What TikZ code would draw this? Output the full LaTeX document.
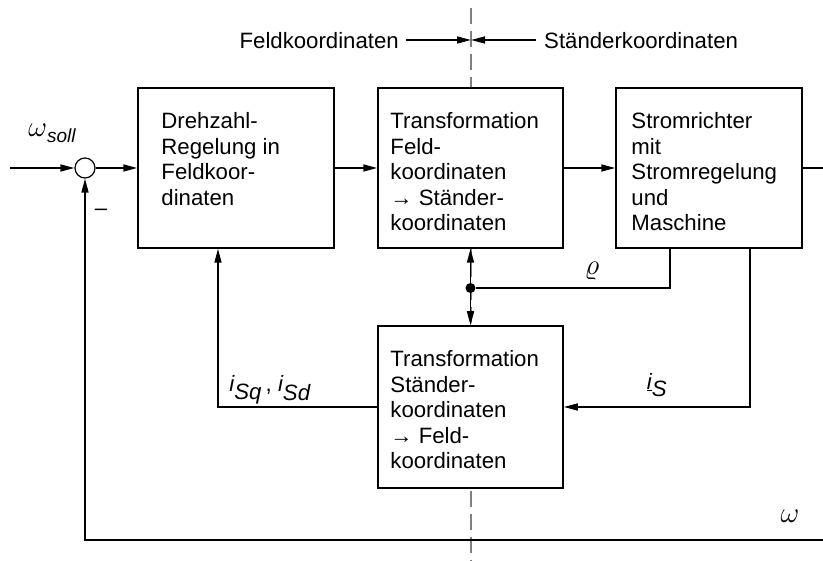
\RequirePackage{fix-cm}
\documentclass[tikz,border=0pt]{standalone}
\usepackage{fontspec}
\setmainfont{Liberation Sans}
\usetikzlibrary{arrows.meta}
\begin{document}
\begin{tikzpicture}[x=1pt,y=-1pt,
  blk/.style={draw,line width=1.5pt,fill=white,inner sep=0pt},
  txt/.style={anchor=north west,align=left,inner sep=0pt,font=\fontsize{22.2}{25.5}\selectfont},
  lbl/.style={inner sep=0pt,font=\fontsize{22.2}{25.5}\selectfont},
  greek/.style={inner sep=0pt,font=\fontsize{29}{30}\selectfont},
  sig/.style={line width=1.5pt},
  arr/.style={sig,-{Triangle[length=14pt,width=7pt]}},
  sep/.style={draw=gray,line width=1.2pt,dash pattern=on 16pt off 7pt}]
\useasboundingbox (0,0) rectangle (823,561);

% separation line between field and stator coordinates
\coordinate (septop) at (471,8);
\coordinate (sepbot) at (471,561);
\draw[sep] (septop) -- (sepbot);

% header labels
\node[lbl,anchor=east] (feld) at (399,41) {Feldkoordinaten};
\node[lbl,anchor=west] (staend) at (544,41) {Ständerkoordinaten};
\coordinate (fa) at (406,40);
\coordinate (sa) at (536,40);
\coordinate (mid) at (471,40);
\draw[arr] (fa) -- (mid);
\draw[arr] (sa) -- (mid);

% blocks
\node[blk,minimum width=196pt,minimum height=160pt] (b1) at (236,168) {};
\node[blk,minimum width=185pt,minimum height=160pt] (b2) at (470.5,168) {};
\node[blk,minimum width=186pt,minimum height=160pt] (b3) at (709,168) {};
\node[blk,minimum width=185pt,minimum height=162pt] (b4) at (470.5,407) {};

\node[txt] (t1) at ([xshift=24pt,yshift=-25pt]b1.north west) {Drehzahl-\\Regelung in\\Feldkoor-\\dinaten};
\node[txt] (t2) at ([xshift=13pt,yshift=-25pt]b2.north west) {Transformation\\Feld-\\koordinaten\\→ Ständer-\\koordinaten};
\node[txt] (t3) at ([xshift=16pt,yshift=-25pt]b3.north west) {Stromrichter\\mit\\Stromregelung\\und\\Maschine};
\node[txt] (t4) at ([xshift=13pt,yshift=-25pt]b4.north west) {Transformation\\Ständer-\\koordinaten\\→ Feld-\\koordinaten};

% summing point
\node[circle,draw,line width=1.2pt,fill=white,minimum size=20pt,inner sep=0pt] (sum) at (85,168) {};

% forward path
\coordinate (in) at (10,168);
\coordinate (out) at (823,168);
\draw[arr] (in) -- (sum.west);
\draw[arr] (sum.east) -- (b1.west);
\draw[arr] (b1.east) -- (b2.west);
\draw[arr] (b2.east) -- (b3.west);
\draw[sig] (b3.east) -- (out);

% rotor angle
\coordinate (rx) at (670,288);
\node[circle,fill,inner sep=0pt,minimum size=10pt] (dot) at (470.5,288) {};
\draw[sig] (rx |- b3.south) -- (rx) -- (dot);
\draw[arr] (dot) -- (b2.south);
\draw[arr] (dot) -- (b4.north);

% stator current
\coordinate (sx) at (750,407);
\draw[arr] (sx |- b3.south) -- (sx) -- (b4.east);

% field-oriented currents
\coordinate (qx) at (218,407);
\draw[arr] (b4.west) -- (qx) -- (qx |- b1.south);

% speed feedback
\coordinate (wr) at (823,540);
\coordinate (wl) at (85,540);
\draw[arr] (wr) -- (wl) -- (sum.south);

% labels
\node[greek] (wsoll) at (52,133) {$\omega$\raisebox{-6pt}{\fontsize{19}{20}\selectfont\itshape soll}};
\node[lbl] (minus) at (101,212) {–};
\node[greek] (rho) at (592,271) {$\varrho$};
\node[lbl] (isqd) at (270,390) {$\textit{i}_{\textit{Sq}}$\,, $\textit{i}_{\textit{Sd}}$};
\node[lbl] (is) at (657,385) {$\underline{\textit{i}}_{\textit{S}}$};
\node[greek] (w) at (790,516) {$\omega$};
\end{tikzpicture}
\end{document}
